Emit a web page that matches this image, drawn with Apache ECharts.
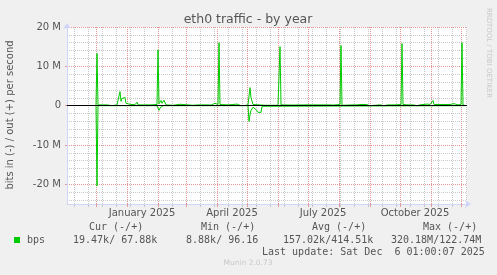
<!DOCTYPE html>
<html><head><meta charset="utf-8">
<script src="https://cdn.jsdelivr.net/npm/echarts@6/dist/echarts.min.js"></script>
<style>html,body{margin:0;padding:0;background:#f0f0f0;}#c{width:497px;height:275px;}</style>
</head><body><div id="c"></div>
<script>
// ---- data (Mbit/s) ----
const outDates = ['2024-12-01','2024-12-02','2024-12-03','2024-12-05','2024-12-08','2024-12-12','2024-12-13','2024-12-17','2024-12-18','2024-12-22','2024-12-23','2024-12-24','2024-12-25','2024-12-26','2024-12-27','2024-12-28','2024-12-29','2024-12-30','2024-12-31','2025-01-01','2025-01-05','2025-01-09','2025-01-11','2025-01-12','2025-01-14','2025-01-17','2025-01-19','2025-01-20','2025-01-25','2025-01-31','2025-02-01','2025-02-02','2025-02-03','2025-02-04','2025-02-05','2025-02-06','2025-02-07','2025-02-08','2025-02-09','2025-02-11','2025-02-16','2025-02-23','2025-02-24','2025-03-08','2025-03-09','2025-03-10','2025-03-13','2025-03-14','2025-03-23','2025-03-26','2025-03-28','2025-03-30','2025-03-31','2025-04-02','2025-04-03','2025-04-04','2025-04-06','2025-04-12','2025-04-17','2025-04-21','2025-04-22','2025-04-23','2025-04-25','2025-04-29','2025-05-02','2025-05-03','2025-05-04','2025-05-05','2025-05-06','2025-05-07','2025-05-09','2025-05-19','2025-05-21','2025-06-01','2025-06-02','2025-06-03','2025-06-04','2025-06-14','2025-06-16','2025-06-28','2025-06-30','2025-07-15','2025-07-17','2025-07-23','2025-07-26','2025-07-28','2025-08-02','2025-08-03','2025-08-04','2025-08-15','2025-08-19','2025-08-22','2025-08-24','2025-08-28','2025-08-29','2025-08-30','2025-09-01','2025-09-11','2025-09-12','2025-09-13','2025-09-15','2025-09-19','2025-09-26','2025-10-02','2025-10-03','2025-10-04','2025-10-09','2025-10-11','2025-10-14','2025-10-16','2025-10-18','2025-10-21','2025-10-28','2025-10-31','2025-11-02','2025-11-03','2025-11-04','2025-11-06','2025-11-20','2025-11-24','2025-11-25','2025-11-28','2025-11-30','2025-12-01','2025-12-02','2025-12-03','2025-12-05'];
const outValues = [0.1,13.3,0.2,0.25,0.2,0.2,0,0,0.25,0.2,0.05,0.3,3.6,1.1,1.8,1.3,1.6,2.1,0.6,0.2,0.3,0.25,0.9,0.2,0.25,0.2,0.6,0.2,0.2,0.3,14.2,0.5,0.9,1.3,0.6,0.9,1.4,0.9,0.2,0,0.1,0.35,0.1,0.1,0,0.2,0.2,0,0.2,0.15,0.05,0.6,0.3,0.3,16.0,0.3,0.05,0.2,0.3,0.4,0.5,0.2,0,0.05,0.2,0.5,4.6,2.0,1.2,0.3,0.1,0.1,0,0.1,0.3,15.0,0.2,0.15,0,0.2,0,0.2,0,0.2,0.15,0,0.3,15.3,0.1,0.2,0.2,0.3,0.05,0.3,0.4,0.3,0,0.2,0.5,0.2,0,0.2,0.2,0.3,15.8,0.3,0.2,0,0.2,0.2,0,0.2,0.4,0.3,0.6,1.3,0.3,0,0.3,0.5,0.2,0.2,0.2,0.3,16.0,0.2,0.05];
const inDates = ['2024-12-01','2024-12-02','2024-12-03','2025-01-31','2025-02-01','2025-02-02','2025-02-03','2025-02-04','2025-02-05','2025-02-06','2025-05-02','2025-05-03','2025-05-04','2025-05-05','2025-05-06','2025-05-07','2025-05-08','2025-05-09','2025-05-10','2025-05-11','2025-05-12','2025-05-13','2025-05-14','2025-05-15','2025-05-16','2025-05-19','2025-05-20','2025-12-05'];
const inValues = [0,-20.4,0,0,-0.3,-1.2,-0.6,-0.9,-0.3,0,0,-4.0,-2.3,-1.2,-0.7,-0.4,-0.5,-0.7,-1.0,-1.4,-1.7,-1.7,-1.6,-1.7,-0.15,-0.15,0,0];

const xStart = '2024-11-02', xEnd = '2025-12-07';
const monthStarts = ['2024-12-01','2025-01-01','2025-02-01','2025-03-01','2025-04-01','2025-05-01','2025-06-01','2025-07-01','2025-08-01','2025-09-01','2025-10-01','2025-11-01','2025-12-01'];
const minorGridStart = '2024-11-09';
const xLabelDates = ['2025-01-16','2025-04-16','2025-07-16','2025-10-16'];
const xLabels = ['January 2025','April 2025','July 2025','October 2025'];
const yTickValues = [-20,-10,0,10,20];
const yTickLabels = ['-20 M','-10 M','0','10 M','20 M'];
const zeroLine = [0];
const title = 'eth0 traffic - by year';
const yTitle = 'bits in (-) / out (+) per second';
const legendName = 'bps';
const legendHeaders = ['Cur (-/+)','Min (-/+)','Avg (-/+)','Max (-/+)'];
const legendValues = [' 19.47k/ 67.88k','  8.88k/ 96.16 ','157.02k/414.51k','320.18M/122.74M'];
const lastUpdate = 'Last update: Sat Dec  6 01:00:07 2025';
const watermark = 'RRDTOOL / TOBI OETIKER';
const footer = 'Munin 2.0.73';

// ---- build ----
const toTs = s => { const p = s.split('-').map(Number); return Date.UTC(p[0], p[1]-1, p[2]); };
const DAY = 86400000;
const xMin = toTs(xStart), xMax = toTs(xEnd);
const outData = outDates.map((d,i)=>[toTs(d), outValues[i]]);
const inData = inDates.map((d,i)=>[toTs(d), inValues[i]]);
const majorX = monthStarts.map(toTs);
const minorX = [];
for (let t = toTs(minorGridStart); t < xMax; t += 14*DAY) minorX.push(t);
const minorY = [];
for (let v = -24; v < 20; v += 2) if (v % 10 !== 0) minorY.push(v);
const labelTs = xLabelDates.map(toTs);

const GREEN = '#00cc00';
const grayLine = { color: '#c8c8c8', width: 1, type: [1,1] };
const redLine = { color: '#e69494', width: 1, type: [1,1] };
const AXIS = '#cfd6f8';
const MONO = 'DejaVu Sans Mono';
const SANS = 'DejaVu Sans';
const TXT = '#555';

const chart = echarts.init(document.getElementById('c'), null, {renderer: 'canvas'});

const tx = (x, y, text, font, fill, align, rot) => ({ type: 'text', x, y, rotation: rot || 0,
  style: { text, fill, font, textAlign: align, textVerticalAlign: 'middle', align, verticalAlign: 'middle' } });
const graphics = [
  tx(248, 20, title, '12.5px ' + SANS, '#555', 'center'),
  tx(10, 115, yTitle, '10px ' + SANS, TXT, 'center', Math.PI/2),
  tx(489, 53, watermark, '7px ' + SANS, '#c8c8c8', 'center', -Math.PI/2),
  { type: 'rect', shape: { x: 14, y: 237, width: 6, height: 6 }, style: { fill: GREEN } },
  tx(27, 240, legendName, '10px ' + MONO, TXT, 'left'),
  tx(262, 252, lastUpdate, '10px ' + MONO, TXT, 'left'),
  tx(248, 263, footer, '7.5px ' + SANS, '#c8c8c8', 'center')
];
const headerX = [89, 201, 312, 423];
const valueX = [67, 174, 283, 391];
legendHeaders.forEach((h,i) => graphics.push(tx(headerX[i], 227, h, '10px ' + MONO, TXT, 'left')));
legendValues.forEach((v,i) => graphics.push(tx(valueX[i], 240, v, '10px ' + MONO, TXT, 'left')));

const option = {
  animation: false,
  backgroundColor: '#f0f0f0',
  grid: { left: 67, right: 30, top: 27, bottom: 71, show: true, backgroundColor: '#ffffff', borderWidth: 0 },
  xAxis: [{
    type: 'value', min: xMin, max: xMax, scale: true, z: 3,
    axisLine: { show: true, onZero: false, lineStyle: { color: AXIS, width: 1 }, symbol: ['none','arrow'], symbolSize: [6,6], symbolOffset: [0,4] },
    axisTick: { show: true, customValues: majorX, length: 3, lineStyle: { color: '#e89a9a' } },
    axisLabel: { show: true, customValues: labelTs, color: TXT, fontFamily: SANS, fontSize: 10, margin: 4,
      formatter: (v) => { let best = 0; labelTs.forEach((t,i)=>{ if (Math.abs(t-v) < Math.abs(labelTs[best]-v)) best = i; }); return xLabels[best]; } },
    splitLine: { show: true, lineStyle: redLine }
  }, {
    type: 'value', min: xMin, max: xMax, scale: true, position: 'bottom', offset: 0, z: 2,
    axisLine: { show: false, onZero: false },
    axisTick: { show: true, customValues: minorX, length: 3, lineStyle: { color: '#c4c4c4' } },
    axisLabel: { show: false },
    splitLine: { show: true, lineStyle: grayLine }
  }],
  yAxis: [{
    type: 'value', min: -25, max: 20, z: 3,
    axisLine: { show: true, onZero: false, lineStyle: { color: AXIS, width: 1 }, symbol: ['none','arrow'], symbolSize: [6,6], symbolOffset: [0,4] },
    axisTick: { show: true, customValues: yTickValues, length: 2, lineStyle: { color: '#e89a9a' } },
    axisLabel: { show: true, customValues: yTickValues, color: TXT, fontFamily: SANS, fontSize: 10, margin: 6,
      formatter: (v) => yTickLabels[yTickValues.indexOf(v)] },
    splitLine: { show: true, lineStyle: redLine }
  }, {
    type: 'value', min: -25, max: 20, position: 'left', offset: 0, z: 2,
    axisLine: { show: false, onZero: false },
    axisTick: { show: false, customValues: minorY },
    axisLabel: { show: false },
    splitLine: { show: true, lineStyle: grayLine }
  }, {
    type: 'value', min: -25, max: 20, position: 'left', offset: 0, z: 10,
    axisLine: { show: false, onZero: false },
    axisTick: { show: false, customValues: zeroLine },
    axisLabel: { show: false },
    splitLine: { show: true, lineStyle: { color: '#000', width: 1, type: 'solid' } }
  }],
  graphic: graphics,
  series: [
    { name: 'out', type: 'line', data: outData, z: 4, showSymbol: false, symbol: 'none', lineStyle: { color: GREEN, width: 1 }, itemStyle: { color: GREEN } },
    { name: 'in', type: 'line', data: inData, z: 4, showSymbol: false, symbol: 'none', lineStyle: { color: GREEN, width: 1 }, itemStyle: { color: GREEN } }
  ]
};
chart.setOption(option);
</script>
</body></html>
